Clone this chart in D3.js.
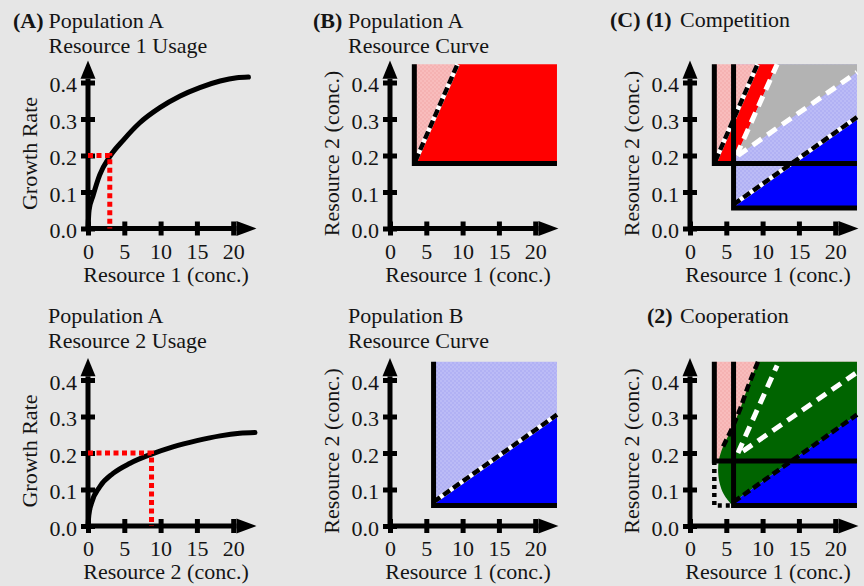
<!DOCTYPE html>
<html>
<head>
<meta charset="utf-8">
<script src="https://cdn.jsdelivr.net/npm/d3@7"></script>
<style>
  body { margin: 0; background: #e6e6e6; }
  svg text { font-family: "Liberation Serif", "Times New Roman", serif; font-size: 22px; fill: #141414; }
</style>
</head>
<body>
<svg width="864" height="586"></svg>
<script>
// ---- values ----
var r1Ticks = [0, 5, 10, 15, 20];
var rateTicks = [0, 0.1, 0.2, 0.3, 0.4];

// growth rate of population A against resource 1 / resource 2
var usageR1 = [[0, 0], [0.15, 0.05], [0.7, 0.09], [1.6, 0.146], [3.0, 0.197], [4.9, 0.243], [7.1, 0.289],
  [9.9, 0.331], [12.7, 0.363], [15.4, 0.386], [18.2, 0.404], [20.5, 0.413], [22.1, 0.415]];
var usageR2 = [[0, 0], [0.12, 0.03], [0.46, 0.061], [1.6, 0.107], [3.45, 0.144], [5.8, 0.172], [8.75, 0.197],
  [11.7, 0.217], [15.0, 0.234], [18.2, 0.247], [20.9, 0.254], [23.0, 0.256]];
var cutRate = 0.2;
var cutR1 = 3.0, cutR2 = 8.75;

// minimum resource corners (R1, R2) of the two populations
var minA = [3.35, 0.178];
var minB = [6.0, 0.056];
// consumption vectors
var lineA = [[3.5, 0.185], [9.3, 0.45]];
var lineB = [[6.0, 0.066], [23.0, 0.305]];
var roof = [23.0, 0.45];
// competition: region splits
var compSplitA = [[6.4, 0.2], [12.0, 0.45]];
var compSplitB = [[6.6, 0.2], [23.0, 0.428]];
// cooperation: edge of the shared region and its splits
var coopEdge = [[9.36, 0.45], [7.99, 0.382], [6.85, 0.318], [5.7, 0.264], [4.56, 0.218], [4.0, 0.182],
  [3.88, 0.146], [4.2, 0.109], [4.8, 0.082], [5.7, 0.059]];
var coopSplitA = [[6.6, 0.2], [12.0, 0.44]];
var coopSplitB = [[7.3, 0.205], [22.8, 0.418]];

var svg = d3.select("svg"),
    width = +svg.attr("width"),
    height = +svg.attr("height");

svg.append("rect").attr("width", width).attr("height", height).attr("fill", "#e6e6e6");

var defs = svg.append("defs");
function checker(id, c1, c2) {
  var p = defs.append("pattern").attr("id", id)
    .attr("width", 4).attr("height", 4).attr("patternUnits", "userSpaceOnUse");
  p.append("rect").attr("width", 4).attr("height", 4).attr("fill", c1);
  p.append("rect").attr("width", 2).attr("height", 2).attr("fill", c2);
  p.append("rect").attr("x", 2).attr("y", 2).attr("width", 2).attr("height", 2).attr("fill", c2);
}
checker("pink", "#f5b2b2", "#f8bcbc");
checker("lblue", "#b1b1f4", "#bbbbf6");

var RED = "#ff0000", BLUE = "#0000ff", GREEN = "#006400", GRAY = "#b3b3b3";

var cols = [88, 390, 690], rows = [228.5, 526];

function panel(c, r) {
  var x0 = cols[c], y0 = rows[r];
  return {
    g: svg.append("g"),
    x: d3.scaleLinear().domain([0, 20]).range([x0, x0 + 145.2]),
    y: d3.scaleLinear().domain([0, 0.4]).range([y0, y0 - 146])
  };
}

function pts(s, arr) {
  return arr.map(function(p) { return [s.x(p[0]), s.y(p[1])]; });
}

function axes(s, xTitle, yTitle) {
  var g = s.g, x = s.x, y = s.y;
  g.append("line").attr("x1", x(0) - 2).attr("x2", x(20.45)).attr("y1", y(0)).attr("y2", y(0))
    .attr("stroke", "#000").attr("stroke-width", 5);
  g.append("line").attr("x1", x(0)).attr("x2", x(0)).attr("y1", y(0) + 2).attr("y2", y(0.41))
    .attr("stroke", "#000").attr("stroke-width", 5);
  g.append("path")
    .attr("d", d3.line()([[x(20.45), y(0) - 7.5], [x(23.2), y(0)], [x(20.45), y(0) + 7.5]]) + "Z");
  g.append("path")
    .attr("d", d3.line()([[x(0) - 7.5, y(0.41)], [x(0), y(0.46)], [x(0) + 7.5, y(0.41)]]) + "Z");

  var xa = g.append("g").attr("transform", "translate(0," + y(0) + ")")
    .call(d3.axisBottom(x).tickValues(r1Ticks).tickFormat(d3.format("d")).tickSize(7));
  xa.select(".domain").remove();
  xa.selectAll(".tick line").attr("y1", -7).attr("y2", 7).attr("stroke", "#000").attr("stroke-width", 5);
  xa.selectAll(".tick text").attr("y", 30).attr("dy", null);

  var ya = g.append("g").attr("transform", "translate(" + x(0) + ",0)")
    .call(d3.axisLeft(y).tickValues(rateTicks).tickFormat(d3.format(".1f")).tickSize(7));
  ya.select(".domain").remove();
  ya.selectAll(".tick line").attr("x1", -7).attr("x2", 7).attr("stroke", "#000").attr("stroke-width", 5);
  ya.selectAll(".tick text").attr("x", -11).attr("dy", "0.42em");

  g.append("text").attr("x", x(0) + 78).attr("y", y(0) + 53)
    .attr("text-anchor", "middle").text(xTitle);
  g.append("text")
    .attr("transform", "translate(" + (x(0) - 51) + "," + (y(0) - 75) + ") rotate(-90)")
    .attr("text-anchor", "middle").text(yTitle);
}

function title(x, y, bold, rest, restX) {
  var t = svg.append("text").attr("x", x).attr("y", y);
  if (bold) t.append("tspan").attr("font-weight", "bold").text(bold);
  t.append("tspan").attr("x", restX).text(rest);
}

function poly(s, arr, fill) {
  s.g.append("path").attr("d", d3.line()(pts(s, arr)) + "Z").attr("fill", fill);
}

function stroke(s, arr, color, w, dash, curve) {
  return s.g.append("path").attr("d", d3.line().curve(curve || d3.curveLinear)(pts(s, arr)))
    .attr("fill", "none").attr("stroke", color).attr("stroke-width", w)
    .attr("stroke-dasharray", dash || null);
}

function ell(s, corner) {
  stroke(s, [[corner[0], roof[1]], corner, [roof[0], corner[1]]], "#000", 5)
    .attr("stroke-linejoin", "miter");
}

function boundary(s, arr, under) {
  if (under) stroke(s, arr, "#fff", 4.5);
  stroke(s, arr, "#000", 4.5, "8,4");
}

// ---- (A) top: resource 1 usage ----
var a1 = panel(0, 0);
axes(a1, "Resource 1 (conc.)", "Growth Rate");
stroke(a1, usageR1, "#000", 5, null, d3.curveMonotoneX).attr("stroke-linecap", "round");
stroke(a1, [[0, cutRate], [cutR1, cutRate], [cutR1, 0]], RED, 5, "5,3.5");
title(13, 28, "(A) ", "Population A", 48.5);
title(48.5, 53, null, "Resource 1 Usage", 48.5);

// ---- (A) bottom: resource 2 usage ----
var a2 = panel(0, 1);
axes(a2, "Resource 2 (conc.)", "Growth Rate");
stroke(a2, usageR2, "#000", 5, null, d3.curveMonotoneX).attr("stroke-linecap", "round");
stroke(a2, [[0, cutRate], [cutR2, cutRate], [cutR2, 0]], RED, 5, "5,3.5");
title(48, 322.5, null, "Population A", 48);
title(48, 348, null, "Resource 2 Usage", 48);

// ---- (B) top: population A resource curve ----
var b1 = panel(1, 0);
axes(b1, "Resource 1 (conc.)", "Resource 2 (conc.)");
poly(b1, [minA, [minA[0], roof[1]], lineA[1], lineA[0]], "url(#pink)");
poly(b1, [minA, lineA[0], lineA[1], roof, [roof[0], minA[1]]], RED);
boundary(b1, lineA, true);
ell(b1, minA);
title(313, 28, "(B) ", "Population A", 348);
title(348, 53, null, "Resource Curve", 348);

// ---- (B) bottom: population B resource curve ----
var b2 = panel(1, 1);
axes(b2, "Resource 1 (conc.)", "Resource 2 (conc.)");
poly(b2, [minB, [minB[0], roof[1]], roof, [roof[0], minB[1]]], "url(#lblue)");
poly(b2, [minB, lineB[0], lineB[1], [roof[0], minB[1]]], BLUE);
boundary(b2, lineB, true);
ell(b2, minB);
title(348, 322.5, null, "Population B", 348);
title(348, 348, null, "Resource Curve", 348);

// ---- (C)(1) competition ----
var c1 = panel(2, 0);
axes(c1, "Resource 1 (conc.)", "Resource 2 (conc.)");
poly(c1, [minB, [minB[0], roof[1]], roof, [roof[0], minB[1]]], "url(#lblue)");
poly(c1, [minA, [minA[0], roof[1]], lineA[1], lineA[0]], "url(#pink)");
poly(c1, [minA, lineA[0], lineA[1], compSplitA[1], compSplitA[0], [minB[0], compSplitA[0][1]], [minB[0], minA[1]]], RED);
poly(c1, [compSplitA[0], compSplitA[1], roof, compSplitB[1], compSplitB[0]], GRAY);
poly(c1, [minB, lineB[0], lineB[1], [roof[0], minB[1]]], BLUE);
stroke(c1, compSplitA, "#fff", 5, "11,7");
stroke(c1, compSplitB, "#fff", 5, "11,7");
boundary(c1, lineA, true);
boundary(c1, lineB, true);
ell(c1, minA);
ell(c1, minB);
title(610, 27, "(C) (1) ", "Competition", 680);

// ---- (C)(2) cooperation ----
var c2 = panel(2, 1);
axes(c2, "Resource 1 (conc.)", "Resource 2 (conc.)");
poly(c2, [minA, [minA[0], roof[1]], roof, [roof[0], minA[1]]], "url(#pink)");
// shared region: curved left edge, straight elsewhere
var edgePath = d3.line().curve(d3.curveCatmullRom)(pts(c2, coopEdge));
var restPath = d3.line()(pts(c2, [lineB[0], lineB[1], roof])).replace(/^M/, "L");
c2.g.append("path").attr("d", edgePath + restPath + "Z").attr("fill", GREEN);
poly(c2, [minB, lineB[0], lineB[1], [roof[0], minB[1]]], BLUE);
stroke(c2, coopSplitA, "#fff", 5, "11,7");
stroke(c2, coopSplitB, "#fff", 5, "11,7");
stroke(c2, coopEdge.slice(0, 5), "#000", 4.5, "8,4", d3.curveCatmullRom);
boundary(c2, lineB, false);
stroke(c2, [minA, [minA[0], minB[1]], minB], "#000", 4.5, "4,4");
ell(c2, minA);
ell(c2, minB);
title(647, 323, "(2) ", "Cooperation", 680);
</script>
</body>
</html>
